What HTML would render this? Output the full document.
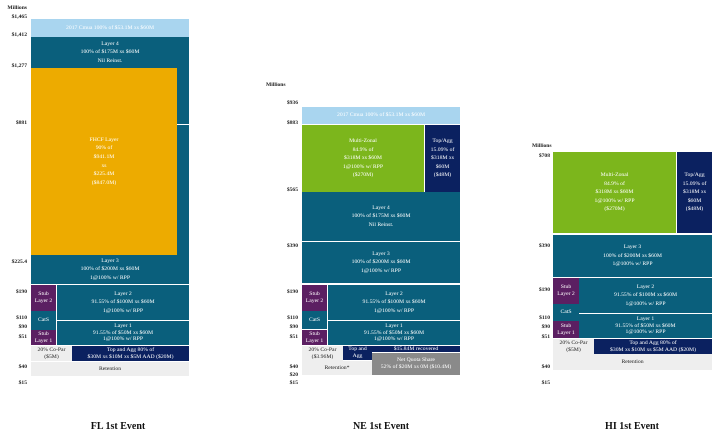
<!DOCTYPE html>
<html><head><meta charset="utf-8"><style>
body{margin:0;width:720px;height:435px;background:#fff;position:relative;overflow:hidden;font-family:"Liberation Serif",serif}
.b{position:absolute;display:flex;align-items:center;justify-content:center;text-align:center;color:#fff;font-size:5.7px;line-height:1.5;box-sizing:border-box;overflow:hidden}
.c{line-height:1.2}
.cap{background:#a9d5ef}.t{background:#0a5f7c}.g{background:#edab00}.p{background:#5b1f62}.n{background:#0b2160}
.gr{background:#7cb61c}.l{background:#eeeeee;color:#222}.q{background:#8a8a8a}
.y{position:absolute;font-size:5.6px;font-weight:bold;color:#222;text-align:right;width:30px}
.ti{position:absolute;font-size:10px;font-weight:bold;color:#111;width:120px;text-align:center}
</style></head><body>
<!-- FL -->
<div class="y" style="left:-3px;top:5px">Millions</div>
<div class="y" style="left:-3px;top:14px">$1,465</div>
<div class="y" style="left:-3px;top:32px">$1,412</div>
<div class="y" style="left:-3px;top:63px">$1,277</div>
<div class="y" style="left:-3px;top:120px">$881</div>
<div class="y" style="left:-3px;top:259px">$225.4</div>
<div class="y" style="left:-3px;top:289px">$190</div>
<div class="y" style="left:-3px;top:315px">$110</div>
<div class="y" style="left:-3px;top:324px">$90</div>
<div class="y" style="left:-3px;top:334px">$51</div>
<div class="y" style="left:-3px;top:364px">$40</div>
<div class="y" style="left:-3px;top:380px">$15</div>
<div class="b cap" style="left:31px;top:19px;width:158px;height:18px">2017 Cmua 100% of $53.1M xs $60M</div>
<div class="b t" style="left:31px;top:37px;width:158px;height:31px">Layer 4<br>100% of $175M xs $60M<br>Nil Reinst.</div>
<div class="b t" style="left:177px;top:68px;width:12px;height:187px"></div>
<div style="position:absolute;left:177px;top:124px;width:12px;height:1px;background:#fff"></div>
<div class="b g" style="left:31px;top:68px;width:146px;height:187px">FHCF Layer<br>90% of<br>$941.1M<br>xs<br>$225.4M<br>($847.0M)</div>
<div class="b t" style="left:31px;top:255px;width:158px;height:29px">Layer 3<br>100% of $200M xs $60M<br>1@100% w/ RPP</div>
<div class="b p c" style="left:31px;top:285px;width:25px;height:26px">Stub<br>Layer 2</div>
<div class="b t" style="left:57px;top:285px;width:132px;height:35px">Layer 2<br>91.55% of $100M xs $60M<br>1@100% w/ RPP</div>
<div class="b t" style="left:31px;top:311px;width:25px;height:19px">CatS</div>
<div class="b p c" style="left:31px;top:330px;width:25px;height:15px">Stub<br>Layer 1</div>
<div class="b t c" style="left:57px;top:321px;width:132px;height:24px">Layer 1<br>91.55% of $50M xs $60M<br>1@100% w/ RPP</div>
<div class="b l c" style="left:31px;top:346px;width:41px;height:15px">20% Co-Par<br>($5M)</div>
<div class="b n c" style="left:72px;top:346px;width:117px;height:15px">Top and Agg 80% of<br>$30M xs $10M xs $5M AAD ($20M)</div>
<div class="b l" style="left:31px;top:362px;width:158px;height:14px">Retention</div>
<div class="ti" style="left:58px;top:421px">FL 1st Event</div>
<!-- NE -->
<div class="y" style="left:266px;top:82px;text-align:left">Millions</div>
<div class="y" style="left:268px;top:100px">$936</div>
<div class="y" style="left:268px;top:120px">$883</div>
<div class="y" style="left:268px;top:187px">$565</div>
<div class="y" style="left:268px;top:243px">$390</div>
<div class="y" style="left:268px;top:289px">$190</div>
<div class="y" style="left:268px;top:315px">$110</div>
<div class="y" style="left:268px;top:324px">$90</div>
<div class="y" style="left:268px;top:334px">$51</div>
<div class="y" style="left:268px;top:364px">$40</div>
<div class="y" style="left:268px;top:372px">$20</div>
<div class="y" style="left:268px;top:380px">$15</div>
<div class="b cap" style="left:302px;top:107px;width:158px;height:17px">2017 Cmua 100% of $53.1M xs $60M</div>
<div class="b gr" style="left:302px;top:125px;width:122px;height:67px">Multi-Zonal<br>84.9% of<br>$318M xs $60M<br>1@100% w/ RPP<br>($270M)</div>
<div class="b n" style="left:425px;top:125px;width:35px;height:67px">Top/Agg<br>15.09% of<br>$318M xs<br>$60M<br>($48M)</div>
<div class="b t" style="left:302px;top:192px;width:158px;height:49px">Layer 4<br>100% of $175M xs $60M<br>Nil Reinst.</div>
<div class="b t" style="left:302px;top:242px;width:158px;height:41px">Layer 3<br>100% of $200M xs $60M<br>1@100% w/ RPP</div>
<div class="b p c" style="left:302px;top:285px;width:25px;height:26px">Stub<br>Layer 2</div>
<div class="b t" style="left:328px;top:285px;width:132px;height:35px">Layer 2<br>91.55% of $100M xs $60M<br>1@100% w/ RPP</div>
<div class="b t" style="left:302px;top:311px;width:25px;height:18px">CatS</div>
<div class="b p c" style="left:302px;top:330px;width:25px;height:15px">Stub<br>Layer 1</div>
<div class="b t c" style="left:328px;top:321px;width:132px;height:24px">Layer 1<br>91.55% of $50M xs $60M<br>1@100% w/ RPP</div>
<div class="b l c" style="left:302px;top:346px;width:41px;height:15px">20% Co-Par<br>($3.96M)</div>
<div class="b n c" style="left:343px;top:346px;width:29px;height:14px">Top and<br>Agg</div>
<div class="b n" style="left:372px;top:346px;width:88px;height:6px">$15.84M recovered</div>
<div class="b q c" style="left:372px;top:353px;width:88px;height:22px">Net Quota Share<br>52% of $20M xs 0M ($10.4M)</div>
<div class="b l" style="left:302px;top:361px;width:70px;height:14px">Retention*</div>
<div class="ti" style="left:321px;top:421px">NE 1st Event</div>
<!-- HI -->
<div class="y" style="left:532px;top:143px;text-align:left">Millions</div>
<div class="y" style="left:520px;top:153px">$708</div>
<div class="y" style="left:520px;top:243px">$390</div>
<div class="y" style="left:520px;top:287px">$190</div>
<div class="y" style="left:520px;top:315px">$110</div>
<div class="y" style="left:520px;top:324px">$90</div>
<div class="y" style="left:520px;top:334px">$51</div>
<div class="y" style="left:520px;top:364px">$40</div>
<div class="y" style="left:520px;top:380px">$15</div>
<div class="b gr" style="left:553px;top:152px;width:123px;height:81px">Multi-Zonal<br>84.9% of<br>$318M xs $60M<br>1@100% w/ RPP<br>($270M)</div>
<div class="b n" style="left:677px;top:152px;width:35px;height:81px">Top/Agg<br>15.09% of<br>$318M xs<br>$60M<br>($48M)</div>
<div class="b t" style="left:553px;top:235px;width:159px;height:42px">Layer 3<br>100% of $200M xs $60M<br>1@100% w/ RPP</div>
<div class="b p c" style="left:553px;top:278px;width:26px;height:26px">Stub<br>Layer 2</div>
<div class="b t" style="left:579px;top:278px;width:133px;height:35px">Layer 2<br>91.55% of $100M xs $60M<br>1@100% w/ RPP</div>
<div class="b t" style="left:553px;top:304px;width:26px;height:17px">CatS</div>
<div class="b p c" style="left:553px;top:321px;width:26px;height:17px">Stub<br>Layer 1</div>
<div class="b t c" style="left:579px;top:314px;width:133px;height:24px">Layer 1<br>91.55% of $50M xs $60M<br>1@100% w/ RPP</div>
<div class="b l c" style="left:553px;top:339px;width:41px;height:15px">20% Co-Par<br>($5M)</div>
<div class="b n c" style="left:594px;top:339px;width:118px;height:15px">Top and Agg 80% of<br>$30M xs $10M xs $5M AAD ($20M)</div>
<div class="b l" style="left:553px;top:354px;width:159px;height:16px">Retention</div>
<div class="ti" style="left:572px;top:421px">HI 1st Event</div>
</body></html>
